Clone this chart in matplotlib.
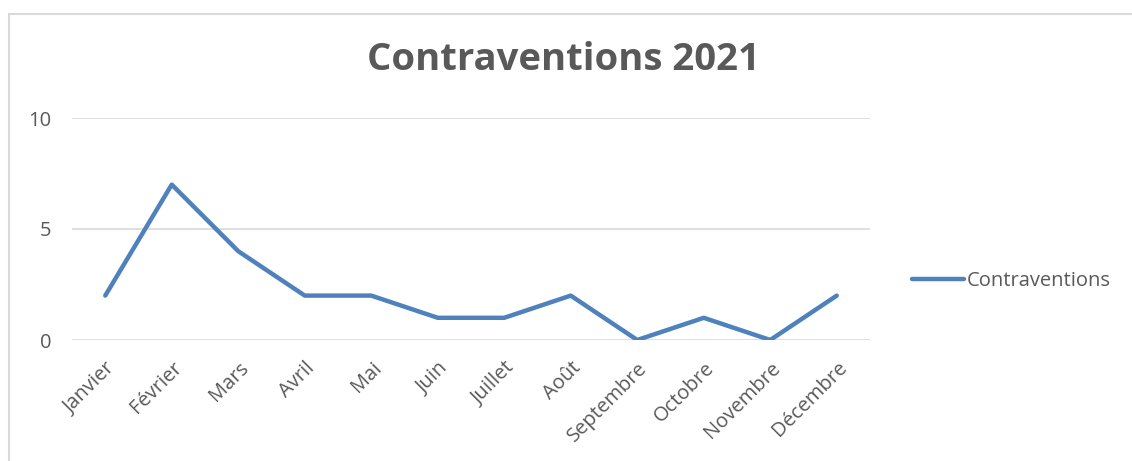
import matplotlib.pyplot as plt
from matplotlib.patches import Rectangle

mois = ["Janvier", "Février", "Mars", "Avril", "Mai", "Juin", "Juillet",
        "Août", "Septembre", "Octobre", "Novembre", "Décembre"]
contraventions = [2, 7, 4, 2, 2, 1, 1, 2, 0, 1, 0, 2]
yticks = [0, 5, 10]

gris = "#595959"
plt.rcParams['font.family'] = ['Open Sans', 'DejaVu Sans']

fig = plt.figure(figsize=(11.32, 4.61), dpi=100)

# cadre du graphique (style Excel)
fig.patches.append(Rectangle((9 / 1132, -0.1), 1.2, (461 - 14) / 461 + 0.1,
                             transform=fig.transFigure, fill=False,
                             edgecolor="#d9d9d9", linewidth=1.5))

ax = fig.add_axes([72 / 1132, 121 / 461, 798 / 1132, 222 / 461])
x = range(len(mois))
ax.plot(x, contraventions, color="#4f81bd", linewidth=3.2,
        solid_joinstyle="round", solid_capstyle="round", label="Contraventions")

ax.set_xlim(-0.5, len(mois) - 0.5)
ax.set_ylim(0, 10)
ax.set_yticks(yticks)
ax.set_xticks(list(x))
ax.set_xticklabels(mois, rotation=45, ha="right", rotation_mode="anchor")
ax.tick_params(axis="both", length=0, labelsize=14.5, colors=gris)
ax.tick_params(axis="y", pad=15)
ax.tick_params(axis="x", pad=13)
ax.grid(axis="y", color="#d9d9d9", linewidth=1.2)
ax.set_axisbelow(True)
for s in ax.spines.values():
    s.set_visible(False)

fig.text(563 / 1132, 1 - 60 / 461, "Contraventions 2021", ha="center",
         va="center", fontsize=27.5, fontweight="bold", color=gris)

ax.legend(loc="center left", bbox_to_anchor=(840 / 798, (340 - 281) / 222),
          frameon=False, fontsize=14.5, labelcolor=gris, handlelength=2.6,
          handletextpad=0.1, borderaxespad=0, borderpad=0)

fig.savefig("out.png", dpi=100)
